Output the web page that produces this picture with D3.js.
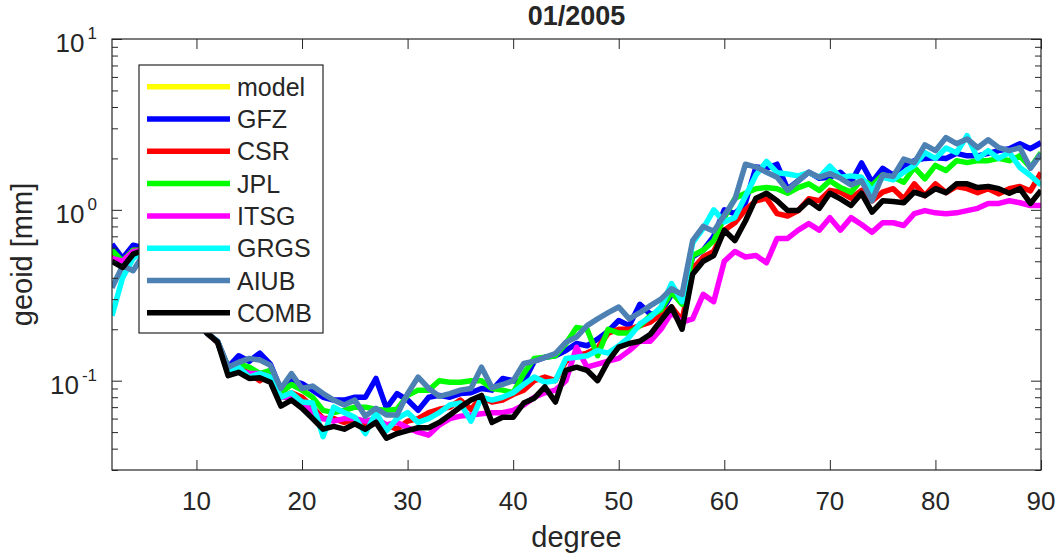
<!DOCTYPE html>
<html>
<head>
<meta charset="utf-8">
<script src="https://cdn.jsdelivr.net/npm/d3@7"></script>
<style>
  html, body { margin: 0; padding: 0; background: #fff; }
  svg { display: block; }
  text { font-family: "Liberation Sans", Arial, Helvetica, sans-serif; fill: #262626; }
</style>
</head>
<body>
<svg id="chart" width="1056" height="556"></svg>
<script>
// ---------------- data ----------------
const title = "01/2005";
const xLabel = "degree";
const yLabel = "geoid [mm]";
const degrees = d3.range(2, 91); // 2..90
const xTicks = [10, 20, 30, 40, 50, 60, 70, 80, 90];
const yMajorTicks = [0.1, 1, 10];
const yTickExponents = ["-1", "0", "1"];

const seriesNames = ["model", "GFZ", "CSR", "JPL", "ITSG", "GRGS", "AIUB", "COMB"];
const seriesColors = ["#ffff00", "#0000ff", "#ff0000", "#00ff00", "#ff00ff", "#00ffff", "#4d80b3", "#000000"];

// model curve is not visible in the picture (legend entry only)
const model = [];
const GFZ = [
  0.63, 0.52, 0.62, 0.60, 0.53, 0.45, 0.37, 0.30, 0.24,
  0.19, 0.17, 0.12, 0.14, 0.13, 0.145, 0.125, 0.088, 0.10, 0.096,
  0.088, 0.080, 0.077, 0.077, 0.080, 0.080, 0.103, 0.069, 0.084, 0.077,
  0.067, 0.080, 0.082, 0.080, 0.084, 0.085, 0.090, 0.088, 0.103, 0.100,
  0.098, 0.130, 0.137, 0.140, 0.150, 0.165, 0.160, 0.175, 0.195, 0.225,
  0.21, 0.28, 0.245, 0.25, 0.32, 0.31, 0.53, 0.58, 0.70, 1.00,
  0.95, 1.10, 1.78, 1.75, 1.85, 1.32, 1.48, 1.66, 1.53, 1.55,
  1.66, 1.45, 1.88, 1.45, 1.75, 1.60, 1.82, 1.94, 2.00, 2.02,
  2.00, 2.14, 2.07, 2.07, 2.14, 2.22, 2.28, 2.44, 2.28, 2.47
];
const CSR = [
  0.55, 0.50, 0.58, 0.58, 0.52, 0.45, 0.36, 0.29, 0.23,
  0.19, 0.168, 0.115, 0.12, 0.11, 0.10, 0.11, 0.080, 0.085, 0.080,
  0.070, 0.060, 0.060, 0.057, 0.060, 0.055, 0.060, 0.055, 0.052, 0.058,
  0.060, 0.065, 0.068, 0.070, 0.077, 0.068, 0.080, 0.075, 0.077, 0.083,
  0.088, 0.100, 0.105, 0.100, 0.130, 0.140, 0.145, 0.155, 0.190, 0.200,
  0.20, 0.21, 0.22, 0.245, 0.27, 0.225, 0.45, 0.53, 0.57, 0.76,
  0.84, 1.00, 1.13, 1.17, 0.95, 0.92, 0.99, 1.16, 1.13, 1.30,
  1.27, 1.17, 1.30, 1.13, 1.27, 1.33, 1.16, 1.42, 1.21, 1.42,
  1.26, 1.37, 1.33, 1.26, 1.33, 1.24, 1.33, 1.37, 1.29, 1.65
];
const JPL = [
  0.58, 0.50, 0.58, 0.58, 0.52, 0.45, 0.36, 0.29, 0.23,
  0.19, 0.168, 0.12, 0.125, 0.12, 0.11, 0.115, 0.085, 0.095, 0.088,
  0.080, 0.067, 0.065, 0.067, 0.070, 0.070, 0.068, 0.067, 0.068, 0.082,
  0.088, 0.088, 0.100, 0.098, 0.098, 0.100, 0.100, 0.090, 0.088, 0.085,
  0.110, 0.135, 0.137, 0.140, 0.165, 0.205, 0.200, 0.140, 0.200, 0.190,
  0.19, 0.21, 0.24, 0.26, 0.33, 0.28, 0.54, 0.58, 0.66, 0.90,
  1.17, 1.25, 1.33, 1.35, 1.33, 1.25, 1.35, 1.42, 1.30, 1.48,
  1.35, 1.27, 1.50, 1.39, 1.60, 1.55, 1.45, 1.77, 1.52, 1.82,
  1.70, 1.94, 1.89, 1.94, 1.94, 2.00, 1.94, 2.07, 1.77, 2.16
];
const ITSG = [
  0.52, 0.50, 0.57, 0.58, 0.52, 0.45, 0.36, 0.29, 0.23,
  0.19, 0.168, 0.115, 0.115, 0.11, 0.11, 0.105, 0.080, 0.080, 0.075,
  0.065, 0.060, 0.058, 0.060, 0.060, 0.058, 0.060, 0.055, 0.057, 0.053,
  0.050, 0.048, 0.055, 0.060, 0.062, 0.063, 0.064, 0.065, 0.065, 0.067,
  0.072, 0.080, 0.085, 0.088, 0.100, 0.157, 0.120, 0.125, 0.130, 0.135,
  0.15, 0.17, 0.17, 0.20, 0.25, 0.22, 0.23, 0.32, 0.29, 0.50,
  0.57, 0.53, 0.54, 0.49, 0.68, 0.68, 0.76, 0.83, 0.76, 0.90,
  0.76, 0.90, 0.82, 0.74, 0.84, 0.84, 0.81, 0.95, 0.99, 0.96,
  0.95, 0.96, 0.99, 1.02, 1.09, 1.09, 1.13, 1.10, 1.06, 1.06
];
const GRGS = [
  0.24, 0.40, 0.52, 0.58, 0.52, 0.45, 0.37, 0.30, 0.24,
  0.19, 0.17, 0.11, 0.12, 0.105, 0.11, 0.105, 0.080, 0.085, 0.075,
  0.074, 0.047, 0.070, 0.065, 0.061, 0.049, 0.065, 0.051, 0.060, 0.065,
  0.057, 0.060, 0.065, 0.072, 0.074, 0.058, 0.080, 0.077, 0.080, 0.085,
  0.095, 0.105, 0.098, 0.100, 0.135, 0.137, 0.140, 0.150, 0.145, 0.160,
  0.18, 0.215, 0.235, 0.27, 0.37, 0.29, 0.64, 0.78, 1.00, 0.85,
  0.90, 1.20, 1.60, 1.92, 1.65, 1.62, 1.58, 1.65, 1.55, 1.80,
  1.55, 1.58, 1.55, 1.29, 1.55, 1.50, 1.66, 1.82, 2.16, 2.00,
  2.30, 2.16, 2.72, 2.00, 2.22, 2.00, 2.16, 1.77, 1.59, 1.40
];
const AIUB = [
  0.35, 0.47, 0.44, 0.55, 0.50, 0.42, 0.35, 0.29, 0.24,
  0.19, 0.17, 0.12, 0.128, 0.135, 0.132, 0.123, 0.090, 0.110, 0.090,
  0.093, 0.084, 0.077, 0.072, 0.077, 0.062, 0.069, 0.063, 0.063, 0.084,
  0.105, 0.090, 0.081, 0.084, 0.088, 0.090, 0.120, 0.091, 0.095, 0.100,
  0.126, 0.130, 0.137, 0.144, 0.168, 0.180, 0.210, 0.230, 0.250, 0.270,
  0.23, 0.25, 0.275, 0.30, 0.345, 0.32, 0.66, 0.80, 0.75, 0.93,
  1.15, 1.85, 1.78, 1.66, 1.55, 1.30, 1.48, 1.66, 1.55, 1.63,
  1.53, 1.40, 1.48, 1.13, 1.60, 1.57, 1.98, 1.89, 2.40, 2.22,
  2.65, 2.44, 2.60, 2.31, 2.57, 2.31, 2.22, 2.31, 1.75, 2.13
];
const COMB = [
  0.50, 0.46, 0.55, 0.58, 0.52, 0.45, 0.36, 0.29, 0.23,
  0.19, 0.168, 0.107, 0.112, 0.103, 0.104, 0.098, 0.071, 0.077, 0.069,
  0.060, 0.052, 0.054, 0.052, 0.056, 0.052, 0.057, 0.046, 0.049, 0.051,
  0.053, 0.053, 0.057, 0.063, 0.070, 0.077, 0.082, 0.057, 0.061, 0.061,
  0.074, 0.079, 0.092, 0.075, 0.115, 0.120, 0.115, 0.100, 0.130, 0.157,
  0.165, 0.17, 0.187, 0.225, 0.27, 0.20, 0.42, 0.50, 0.54, 0.76,
  0.66, 0.86, 1.17, 1.25, 1.13, 0.99, 0.99, 1.13, 1.02, 1.25,
  1.16, 1.06, 1.25, 0.97, 1.13, 1.12, 1.10, 1.27, 1.21, 1.33,
  1.26, 1.42, 1.42, 1.35, 1.37, 1.33, 1.25, 1.33, 1.09, 1.30
];
const seriesValues = [model, GFZ, CSR, JPL, ITSG, GRGS, AIUB, COMB];

// ---------------- layout ----------------
const svg = d3.select("#chart");
const pL = 112, pR = 1041, pT = 39, pB = 470;
const axisColor = "#262626";

const x = d3.scaleLinear().domain([2, 90]).range([pL, pR]);
const y = d3.scaleLog().domain([0.03, 10]).range([pB, pT]);

svg.append("defs").append("clipPath").attr("id", "plotclip")
  .append("rect").attr("x", pL).attr("y", pT).attr("width", pR - pL).attr("height", pB - pT);

const line = d3.line()
  .defined(d => d.v != null)
  .x(d => x(d.d)).y(d => y(d.v));

const linesG = svg.append("g").attr("clip-path", "url(#plotclip)");
seriesNames.forEach((name, i) => {
  const vals = seriesValues[i];
  if (!vals.length) return;
  const pts = vals.map((v, k) => ({ d: degrees[k], v }));
  linesG.append("path")
    .datum(pts)
    .attr("d", line)
    .attr("fill", "none")
    .attr("stroke", seriesColors[i])
    .attr("stroke-width", 5.5)
    .attr("stroke-linejoin", "round")
    .attr("stroke-linecap", "butt");
});

const yMinor = [];
[0.01, 0.1, 1].forEach(b => { for (let m = 2; m <= 9; m++) { const v = b * m; if (v >= 0.03 && v <= 10) yMinor.push(v); } });

function styleAxis(g) {
  g.select(".domain").remove();
  g.selectAll(".tick line").attr("stroke", axisColor).attr("stroke-width", 1);
  g.selectAll(".tick text").remove();
}

svg.append("g").attr("transform", `translate(0,${pB})`)
  .call(d3.axisBottom(x).tickValues(xTicks).tickSize(-10)).call(styleAxis);
svg.append("g").attr("transform", `translate(0,${pT})`)
  .call(d3.axisTop(x).tickValues(xTicks).tickSize(-10)).call(styleAxis);
svg.append("g").attr("transform", `translate(${pL},0)`)
  .call(d3.axisLeft(y).tickValues(yMajorTicks).tickSize(-10)).call(styleAxis);
svg.append("g").attr("transform", `translate(${pR},0)`)
  .call(d3.axisRight(y).tickValues(yMajorTicks).tickSize(-10)).call(styleAxis);
svg.append("g").attr("transform", `translate(${pL},0)`)
  .call(d3.axisLeft(y).tickValues(yMinor).tickSize(-6)).call(styleAxis);
svg.append("g").attr("transform", `translate(${pR},0)`)
  .call(d3.axisRight(y).tickValues(yMinor).tickSize(-6)).call(styleAxis);

svg.append("rect").attr("x", pL).attr("y", pT)
  .attr("width", pR - pL).attr("height", pB - pT)
  .attr("fill", "none").attr("stroke", axisColor).attr("stroke-width", 1.2);

svg.append("g").selectAll("text").data(xTicks).join("text")
  .attr("x", d => x(d)).attr("y", pB + 40)
  .attr("text-anchor", "middle").attr("font-size", 26)
  .text(d => d);

const yl = svg.append("g").selectAll("text").data(yMajorTicks).join("text")
  .attr("x", 97).attr("y", d => y(d) + 13)
  .attr("text-anchor", "end").attr("font-size", 26);
yl.append("tspan").text("10");
yl.append("tspan").attr("dx", 3).attr("dy", -13).attr("font-size", 17)
  .text((d, i) => yTickExponents[i]);

svg.append("text").attr("x", (pL + pR) / 2).attr("y", 25)
  .attr("text-anchor", "middle").attr("font-size", 27).attr("font-weight", "bold")
  .text(title);
svg.append("text").attr("x", (pL + pR) / 2).attr("y", 547)
  .attr("text-anchor", "middle").attr("font-size", 29)
  .text(xLabel);
svg.append("text")
  .attr("transform", `translate(32,${(pT + pB) / 2}) rotate(-90)`)
  .attr("text-anchor", "middle").attr("font-size", 29)
  .text(yLabel);

const lg = svg.append("g");
lg.append("rect").attr("x", 139).attr("y", 65).attr("width", 184).attr("height", 268)
  .attr("fill", "#fff").attr("stroke", axisColor).attr("stroke-width", 1.2);
const entries = lg.selectAll("g.entry").data(seriesNames).join("g")
  .attr("class", "entry")
  .attr("transform", (d, i) => `translate(0,${86.7 + i * 32.3})`);
entries.append("line").attr("x1", 147).attr("x2", 230).attr("y1", 0).attr("y2", 0)
  .attr("stroke", (d, i) => seriesColors[i]).attr("stroke-width", 5.5);
entries.append("text").attr("x", 237).attr("y", 9)
  .attr("font-size", 25).text(d => d);
</script>
</body>
</html>
